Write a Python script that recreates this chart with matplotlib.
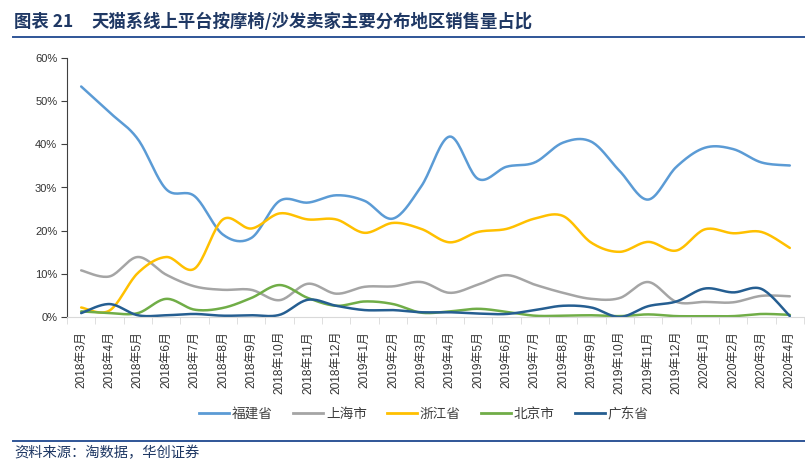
import numpy as np
import matplotlib
matplotlib.use("Agg")
import matplotlib.pyplot as plt
from matplotlib.lines import Line2D

plt.rcParams['font.family'] = ['Noto Sans CJK SC', 'DejaVu Sans']
TICK_FONT = ['Liberation Sans', 'Noto Sans CJK SC']

months = ["2018年3月", "2018年4月", "2018年5月", "2018年6月", "2018年7月", "2018年8月",
          "2018年9月", "2018年10月", "2018年11月", "2018年12月", "2019年1月", "2019年2月",
          "2019年3月", "2019年4月", "2019年5月", "2019年6月", "2019年7月", "2019年8月",
          "2019年9月", "2019年10月", "2019年11月", "2019年12月", "2020年1月", "2020年2月",
          "2020年3月", "2020年4月"]

fujian = [53.4, 47.4, 41.2, 29.6, 28.0, 19.1, 18.3, 26.9, 26.5, 28.2, 26.9, 22.8, 30.3,
          41.8, 32.0, 34.8, 35.8, 40.4, 40.6, 33.8, 27.2, 34.8, 39.2, 38.9, 35.8, 35.1]
shanghai = [10.8, 9.4, 13.9, 9.8, 7.1, 6.3, 6.3, 3.9, 7.7, 5.4, 7.0, 7.1, 8.1,
            5.6, 7.5, 9.7, 7.5, 5.6, 4.2, 4.4, 8.1, 3.5, 3.5, 3.4, 4.9, 4.8]
zhejiang = [2.2, 1.5, 10.2, 13.9, 11.2, 22.6, 20.5, 24.0, 22.6, 22.6, 19.5, 21.8, 20.4,
            17.3, 19.7, 20.4, 22.8, 23.4, 17.2, 15.1, 17.4, 15.4, 20.3, 19.4, 19.7, 16.0]
beijing = [1.3, 0.9, 0.9, 4.2, 1.7, 2.1, 4.4, 7.4, 4.4, 2.6, 3.6, 3.0, 1.0,
           1.3, 1.9, 1.2, 0.3, 0.3, 0.4, 0.2, 0.6, 0.2, 0.2, 0.2, 0.7, 0.5]
guangdong = [0.9, 3.0, 0.4, 0.4, 0.7, 0.3, 0.4, 0.5, 4.0, 2.6, 1.6, 1.6, 1.1,
             1.1, 0.8, 0.7, 1.6, 2.6, 2.2, 0.0, 2.5, 3.6, 6.6, 5.7, 6.5, 0.2]

series_names = ["福建省", "上海市", "浙江省", "北京市", "广东省"]
series_vals = [fujian, shanghai, zhejiang, beijing, guangdong]
colors = ["#5B9BD5", "#A5A5A5", "#FFC000", "#70AD47", "#255E91"]


def smooth(x, y, n=20):
    # Catmull-Rom style smoothing (like Excel's smoothed line)
    x = np.asarray(x, float)
    y = np.asarray(y, float)
    px = np.concatenate([[x[0]], x, [x[-1]]])
    py = np.concatenate([[y[0]], y, [y[-1]]])
    xs, ys = [], []
    t = np.linspace(0, 1, n, endpoint=False)
    for i in range(1, len(px) - 2):
        p0, p1, p2, p3 = (np.array([px[j], py[j]]) for j in (i - 1, i, i + 1, i + 2))
        c1 = p1 + (p2 - p0) / 6.0
        c2 = p2 - (p3 - p1) / 6.0
        for tt in t:
            b = ((1 - tt) ** 3) * p1 + 3 * ((1 - tt) ** 2) * tt * c1 + 3 * (1 - tt) * tt ** 2 * c2 + tt ** 3 * p2
            xs.append(b[0]); ys.append(b[1])
    xs.append(x[-1]); ys.append(y[-1])
    return np.array(xs), np.array(ys)


fig = plt.figure(figsize=(8.05, 4.65), dpi=100)
ax = fig.add_axes([67 / 805, 1 - 317 / 465, 737 / 805, (317 - 58) / 465])

x = np.arange(len(months))
for name, vals, c in zip(series_names, series_vals, colors):
    sx, sy = smooth(x, vals)
    ax.plot(sx, sy, color=c, lw=1.8, label=name, solid_capstyle='round')

ax.set_xlim(-0.5, len(months) - 0.5)
ax.set_ylim(0, 60)
ax.set_yticks(np.arange(0, 61, 10))
ax.set_yticklabels([f"{v}%" for v in range(0, 61, 10)], fontsize=8, color="#333333",
                   family=TICK_FONT)
ax.set_xticks(x)
ax.set_xticklabels(months, rotation=90, fontsize=8.6, color="#333333", family=TICK_FONT)
ax.tick_params(axis='x', length=0, pad=10)
ax.set_xticks(np.arange(-0.5, len(months), 1), minor=True)
ax.tick_params(axis='x', which='minor', length=5, color="#D9D9D9", direction='out')
ax.tick_params(axis='y', length=4, color="#404040", pad=3)

for s in ['top', 'right']:
    ax.spines[s].set_visible(False)
ax.spines['left'].set_color("#404040")
ax.spines['left'].set_linewidth(0.8)
ax.spines['bottom'].set_color("#D9D9D9")
ax.spines['bottom'].set_linewidth(0.8)

handles = [Line2D([0], [0], color=c, lw=2) for c in colors]
fig.legend(handles, series_names, loc='center', bbox_to_anchor=(424 / 805, 1 - 414 / 465),
           ncol=5, frameon=False, fontsize=9.8, handlelength=2.2, handletextpad=0.2,
           columnspacing=1.5, labelcolor="#404040")

title_color = "#1F3864"
fig.text(14 / 805, 1 - 22 / 465, "图表 21", fontsize=12.5, fontweight='bold',
         color=title_color, va='center', ha='left')
fig.text(91 / 805, 1 - 22 / 465, "天猫系线上平台按摩椅/沙发卖家主要分布地区销售量占比",
         fontsize=12.5, fontweight='bold', color=title_color, va='center', ha='left')
fig.add_artist(Line2D([13 / 805, 1.0], [1 - 37 / 465, 1 - 37 / 465], color="#2F5597", lw=1.4))
fig.add_artist(Line2D([13 / 805, 1.0], [1 - 441 / 465, 1 - 441 / 465], color="#2F5597", lw=1.4))
fig.text(14 / 805, 1 - 453 / 465, "资料来源：淘数据，华创证券", fontsize=10.3, color=title_color,
         style='italic', va='center', ha='left')

fig.savefig("out.png", dpi=100)
